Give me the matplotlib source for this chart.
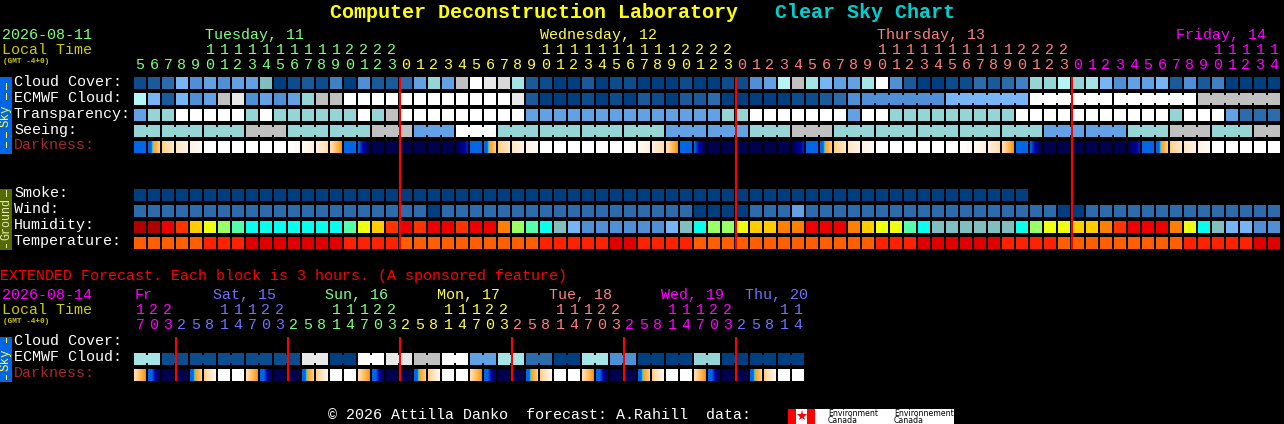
import numpy as np
import matplotlib
matplotlib.use("Agg")
import matplotlib.pyplot as plt
from matplotlib.colors import LinearSegmentedColormap
from matplotlib.patches import Rectangle

plt.rcParams['font.family'] = ['Liberation Mono', 'DejaVu Sans Mono']

# cell levels, one letter per block (see palette)
cloud_cover = "bcdhfgfggiabcbeafccdg" "jgmwonkcbaacabbaaabaabbfglmkhgg" "kwfcaabbdcdejjljkhfgghcfceaaaa"
ecmwf_cloud = "lhchfgmofgfgjmmwwwwww" "wwwwwwocaaababacbaccdaaaaabbcdf" "ffffffhhhhhhwwwwwwwwwwwwmmmmmm"
transparency = "gjjwwwwwjwjjjjjjwjmww" "wwwwwwwggggggggggggggjjwwwwwwwg" "wwjjjjjjjjjwwwwwwwwwwwjwwwgddd"
seeing_blocks = "jjjmjjmgwjjjjggjmjjjjjggjmjm"
darkness = ("BD123WWWWWW456EBVNNNNNNU" "BD123WWWWWW456EBVNNNNNNU"
            "BD123WWWWWW456EBVNNNNNNU" "BD123WWWWW")
smoke = "a" * 64
wind = "d" * 21 + "a" + "d" * 18 + "aaaa" + "ddd" + "g" + "d" * 18 + "aa" + "d" * 14
humidity = ("BBRQAYLSCCCCCCCSYAQRQ" "RRQRROLSCTHMMMMMMHTCLLYAAOORRRO"
            "AYYSCTTTTTTCLYYAAOQRRROYCTHHMM")
temperature = ("OOOOOPPPRRRRRRRPPPPOO" "OOOOOOOOPPPPPRRPPPPOOOOOOOOOOOO"
               "OPPPRRRRRRPPPPOOOOOOOOOPPPPPRR")

ext_ecmwf_blocks = "kbbbbboawomwgkdakfaajaaa"
ext_darkness = "EYNNDCWW" * 6

upper_hours = [5, 6, 7, 8, 9, 10, 11, 12, 13, 14, 15, 16, 17, 18, 19, 20, 21, 22, 23,
               0, 1, 2, 3, 4, 5, 6, 7, 8, 9, 10, 11, 12, 13, 14, 15, 16, 17, 18, 19, 20, 21, 22, 23,
               0, 1, 2, 3, 4, 5, 6, 7, 8, 9, 10, 11, 12, 13, 14, 15, 16, 17, 18, 19, 20, 21, 22, 23,
               0, 1, 2, 3, 4, 5, 6, 7, 8, 9, 10, 11, 12, 13, 14]
ext_hours = [17, 20, 23,
             2, 5, 8, 11, 14, 17, 20, 23,
             2, 5, 8, 11, 14, 17, 20, 23,
             2, 5, 8, 11, 14, 17, 20, 23,
             2, 5, 8, 11, 14, 17, 20, 23,
             2, 5, 8, 11, 14, 17, 20, 23,
             2, 5, 8, 11, 14]

upper_days = ["Tuesday, 11", "Wednesday, 12", "Thursday, 13", "Friday, 14"]
ext_days = ["Fr", "Sat, 15", "Sun, 16", "Mon, 17", "Tue, 18", "Wed, 19", "Thu, 20"]
upper_day_x = [205, 540, 877, 1176]
ext_day_x = [135, 213, 325, 437, 549, 661, 745]
upper_midnights = [19, 43, 67]
ext_midnights = [3, 11, 19, 27, 35, 43]

GREEN, YELLOW, SALMON, MAGENTA, PERI = '#80ff80', '#ffff40', '#ff8080', '#ff00ff', '#7070ff'
RED = '#ff0000'

palette = {
    'a': '#003f7f', 'b': '#0d4d8d', 'c': '#1a5a9a', 'd': '#2c6cac', 'e': '#4080c4',
    'f': '#4f8fd5', 'g': '#62a2e4', 'h': '#77b5f7', 'i': '#80bfbf', 'j': '#95d5d5',
    'k': '#a5e5e5', 'l': '#b5f5f5', 'm': '#c0c0c0', 'n': '#d8d8d8', 'o': '#e8e8e8',
    'w': '#ffffff',
}
hum_palette = {
    'B': '#b00000', 'R': '#ee0000', 'Q': '#ff3300', 'O': '#ff8000', 'A': '#ffcc00',
    'Y': '#eeff11', 'L': '#99ff66', 'S': '#55ffaa', 'C': '#08ffee', 'T': '#80bfbf',
    'H': '#75b5f5', 'M': '#4f8fd5',
}
temp_palette = {'O': '#ff5f00', 'P': '#ff2200', 'R': '#e00000'}

# darkness: left/right position of each block on the sky colormap
dark_cmap = LinearSegmentedColormap.from_list('sky', [
    (0.0, '#00004f'), (0.10, '#0000a8'), (0.18, '#0066e6'), (0.26, '#0066e6'),
    (0.29, '#30c0d0'), (0.32, '#ff9e14'), (0.55, '#ffd9a0'), (0.8, '#fff2e4'),
    (1.0, '#ffffff')])
dark_stops = {
    'N': (0, 0), 'U': (0, .13), 'B': (.22, .22), 'D': (.18, .5), '1': (.5, .68),
    '2': (.68, .8), '3': (.8, .92), 'W': (1, 1), '4': (1, .9), '5': (.9, .78),
    '6': (.78, .6), 'E': (.6, .3), 'V': (.18, 0), 'Y': (.26, 0), 'C': (.5, .85),
}

X0, PITCH, SIZE = 134, 14, 12


def col_x(i):
    return X0 + PITCH * i


def block(ax, x, y, w, h, color, z=1):
    ax.add_patch(Rectangle((x, y), w, h, fc=color, lw=0, antialiased=False, zorder=z))


def draw_row(ax, levels, top, colors=palette):
    for i, lev in enumerate(levels):
        block(ax, col_x(i), top, SIZE, SIZE, colors[lev])


def draw_joined(ax, levels, top, start, length):
    # blocks that span several cells, gaps bridged by a narrower piece
    col = start
    for lev, n in zip(levels, length):
        for j in range(n):
            block(ax, col_x(col + j), top, SIZE, SIZE, palette[lev])
            if j < n - 1:
                block(ax, col_x(col + j) + SIZE, top + 2, PITCH - SIZE, SIZE - 4, palette[lev])
        col += n


def draw_darkness(ax, levels, top):
    for i, lev in enumerate(levels):
        left, right = dark_stops[lev]
        ax.imshow(np.linspace(left, right, SIZE)[None, :], cmap=dark_cmap, vmin=0, vmax=1,
                  extent=(col_x(i), col_x(i) + SIZE, top + SIZE, top),
                  interpolation='nearest', aspect='auto')


def draw_hours(ax, hours, colors, tens_y, unit_y):
    for i, h in enumerate(hours):
        if h >= 10:
            ax.text(col_x(i) + 6, tens_y, str(h // 10), color=colors[i], **digit)
        ax.text(col_x(i) + 6, unit_y, str(h % 10), color=colors[i], **digit)


fig = plt.figure(figsize=(12.84, 4.24), dpi=100, facecolor='black')
ax = fig.add_axes([0, 0, 1, 1])
ax.set_facecolor('black')
ax.axis('off')

LABEL = 10.8
digit = dict(fontsize=LABEL, ha='center', va='baseline')
text = dict(fontsize=LABEL, ha='left', va='baseline')

# title
ax.text(330, 18, "Computer Deconstruction Laboratory", color='#ffff00', fontsize=14.4,
        fontweight='bold', ha='left', va='baseline')
ax.text(775, 18, "Clear Sky Chart", color='#00cfcf', fontsize=14.4,
        fontweight='bold', ha='left', va='baseline')

# upper header
ax.text(2, 39, "2026-08-11", color=GREEN, **text)
ax.text(2, 54, "Local Time", color='#cccc00', **text)
ax.text(3, 63, "(GMT -4+0)", color='#cccc00', fontsize=5.6, fontweight='bold', ha='left', va='baseline')
for name, x, c in zip(upper_days, upper_day_x, [GREEN, YELLOW, SALMON, MAGENTA]):
    ax.text(x, 39, name, color=c, **text)
upper_colors = [GREEN] * 19 + [YELLOW] * 24 + [SALMON] * 24 + [MAGENTA] * 15
draw_hours(ax, upper_hours, upper_colors, 54, 69)

# sky rows
draw_row(ax, cloud_cover, 77)
draw_row(ax, ecmwf_cloud[:52], 93)
draw_joined(ax, ecmwf_cloud[52::6], 93, 52, [6] * 5)
draw_row(ax, transparency, 109)
draw_joined(ax, seeing_blocks, 125, 0, [2] + [3] * 26 + [2])
draw_darkness(ax, darkness, 141)

# ground rows
draw_row(ax, smoke, 189)
draw_row(ax, wind, 205)
draw_row(ax, humidity, 221, hum_palette)
draw_row(ax, temperature, 237, temp_palette)

for name, y, c in [("Cloud Cover:", 86, 'white'), ("ECMWF Cloud:", 102, 'white'),
                   ("Transparency:", 118, 'white'), ("Seeing:", 134, 'white'),
                   ("Darkness:", 149, '#a52a2a'), ("Smoke:", 197, 'white'), ("Wind:", 213, 'white'),
                   ("Humidity:", 229, 'white'), ("Temperature:", 245, 'white')]:
    ax.text(14, y, name, color=c, **text)

# side bars
block(ax, 0, 77, 12, 77, '#0066e6')
block(ax, 0, 189, 12, 61, '#556b00')
block(ax, 0, 337, 12, 45, '#0066e6')
side = dict(fontsize=9, rotation=90, ha='center', va='center', rotation_mode='anchor')
ax.text(6, 115.5, "Sky", color='#ffff40', **side)
ax.text(6, 219.5, "Ground", color='#e8e8c0', fontsize=8.4, rotation=90, ha='center', va='center',
        rotation_mode='anchor')
ax.text(6, 359.5, "Sky", color='#ffff40', **side)
for y0, y1 in [(83, 90), (93, 100), (132, 138), (142, 148), (338, 343), (375, 380)]:
    block(ax, 5.5, y0, 1, y1 - y0, '#ffff40', 2)
for y0, y1 in [(190, 197), (244, 248)]:
    block(ax, 5.5, y0, 1, y1 - y0, '#e8e8c0', 2)

for i in upper_midnights:
    block(ax, col_x(i) - 1, 77, 2, 172, RED, 5)

# extended forecast
ax.text(0, 280, "EXTENDED Forecast. Each block is 3 hours. (A sponsored feature)", color=RED, **text)
ax.text(2, 299, "2026-08-14", color=MAGENTA, **text)
ax.text(2, 314, "Local Time", color='#cccc00', **text)
ax.text(3, 323, "(GMT -4+0)", color='#cccc00', fontsize=5.6, fontweight='bold', ha='left', va='baseline')
for name, x, c in zip(ext_days, ext_day_x, [MAGENTA, PERI, GREEN, YELLOW, SALMON, MAGENTA, PERI]):
    ax.text(x, 299, name, color=c, **text)
ext_colors = [MAGENTA] * 3 + [PERI] * 8 + [GREEN] * 8 + [YELLOW] * 8 + [SALMON] * 8 + [MAGENTA] * 8 + [PERI] * 5
draw_hours(ax, ext_hours, ext_colors, 314, 329)

draw_joined(ax, ext_ecmwf_blocks, 353, 0, [2] * 24)
draw_darkness(ax, ext_darkness, 369)
ax.text(14, 345, "Cloud Cover:", color='white', **text)
ax.text(14, 361, "ECMWF Cloud:", color='white', **text)
ax.text(14, 377, "Darkness:", color='#a52a2a', **text)
for i in ext_midnights:
    block(ax, col_x(i) - 1, 337, 2, 44, RED, 5)

# footer and logo
ax.text(328, 419, "\u00a9 2026 Attilla Danko  forecast: A.Rahill  data:", color='white', **text)
block(ax, 788, 409, 166, 15, 'white')
block(ax, 788, 409, 8, 15, RED, 2)
block(ax, 807, 409, 8, 15, RED, 2)
ax.plot([801.5], [416], marker='*', color=RED, markersize=8, markeredgewidth=0, zorder=3)
for x, top_word in [(828, "Environment"), (894, "Environnement")]:
    ax.text(x, 416, top_word, color='black', fontsize=5.6, family='DejaVu Sans', ha='left', va='baseline', zorder=3)
    ax.text(x, 423, "Canada", color='black', fontsize=5.6, family='DejaVu Sans', ha='left', va='baseline', zorder=3)

ax.set_xlim(0, 1284)
ax.set_ylim(424, 0)

fig.savefig('out.png', dpi=100, facecolor='black')
